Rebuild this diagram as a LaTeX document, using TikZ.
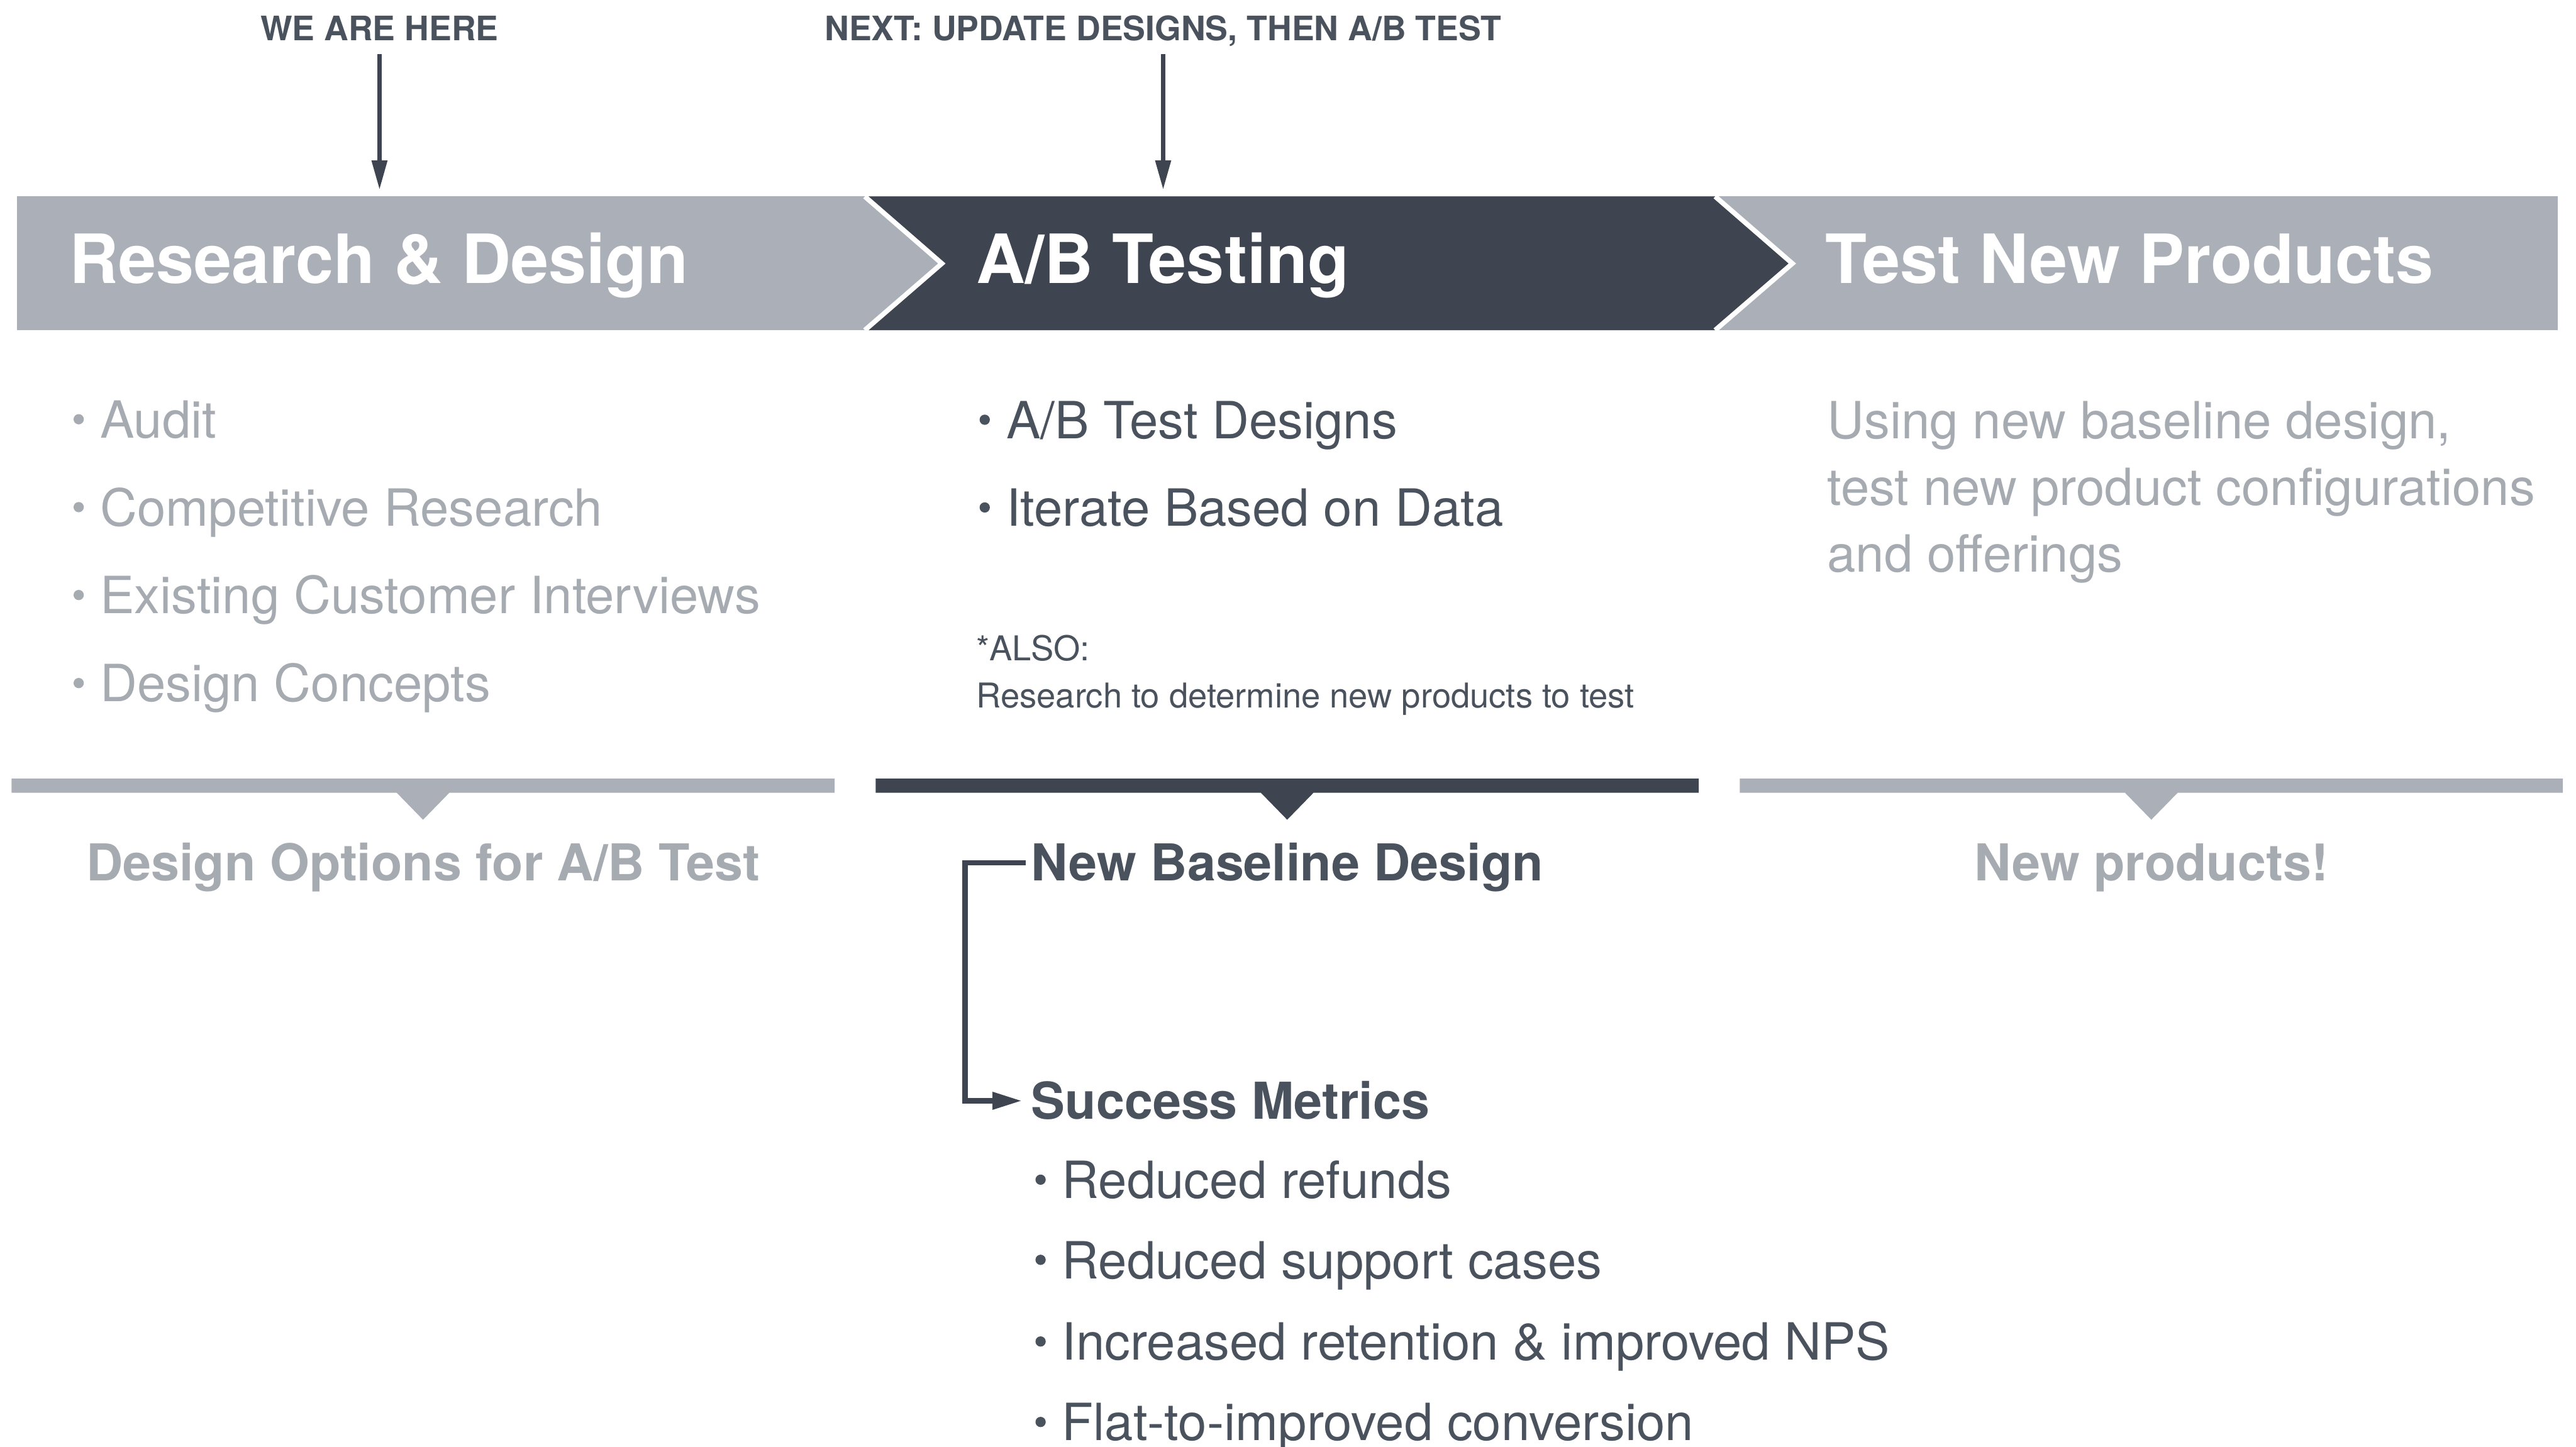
\documentclass[tikz,border=0pt]{standalone}
\usepackage{fontspec}
\setmainfont{TeX Gyre Heros}
\usetikzlibrary{arrows.meta}

\definecolor{slate}{HTML}{3E4550}
\definecolor{slatetext}{HTML}{4A525D}
\definecolor{mist}{HTML}{ABAFB7}
\definecolor{misttext}{HTML}{A6AAB1}

% small round bullet in front of list entries
\newcommand{\blob}{\makebox[0.52em][l]{\raisebox{0.265em}{\tikz\fill (0,0) circle (0.1em);}}}

\begin{document}
\begin{tikzpicture}[
    x=0.025cm, y=-0.025cm,
    stage/.style={anchor=base west, inner sep=0pt, text=white, font=\fontsize{29.4}{34}\selectfont\bfseries},
    tag/.style={anchor=base, inner xsep=0pt, inner ysep=5.8pt, text depth=0pt, text=slatetext, font=\fontsize{14.6}{17}\selectfont\bfseries},
    item/.style={anchor=base west, inner sep=0pt, font=\fontsize{22.2}{26}\selectfont},
    note/.style={anchor=base west, inner sep=0pt, text=slatetext, font=\fontsize{14.8}{17}\selectfont},
    outcome/.style={anchor=base, inner sep=0pt, text height=15.8pt, text depth=0pt, font=\fontsize{22}{26}\selectfont\bfseries},
    pointer/.style={-{Triangle[length=12.8pt, width=6.4pt]}, line width=2pt, draw=slate, shorten >=2.8pt},
    flow/.style={-{Triangle[length=12.8pt, width=7.1pt]}, line width=2.35pt, draw=slate},
    cut/.style={draw=white, line width=2.1pt, miter limit=10}
]
\useasboundingbox (0,0) rectangle (1568,880.6);

% markers above the band
\node[tag] (here) at (231,24.5) {WE ARE HERE};
\node[tag] (next) at (708,24.5) {NEXT: UPDATE DESIGNS, THEN A/B TEST};

% stage band with the active chevron
\fill[mist] (10.5,119.6) rectangle (1557,201);
\fill[slate] (526.4,119.6) -- (1044,119.6) -- (1091,160.4) -- (1044,201) -- (526.4,201) -- (573.3,160.4) -- cycle;
\draw[cut] (526.4,119.6) -- (573.3,160.4) -- (526.4,201);
\draw[cut] (1044,119.6) -- (1091,160.4) -- (1044,201);
\coordinate (bandtop) at (0,119.6);

\node[stage] (research) at (42,172.5) {Research \& Design};
\node[stage] (abtest) at (594,172.5) {A/B Testing};
\node[stage] (products) at (1111,172.5) {Test New Products};

\draw[pointer] (here) -- (here |- bandtop);
\draw[pointer] (next) -- (next |- bandtop);

% research column
\node[item, text=misttext] (audit) at (44.5,266.6) {\blob Audit};
\node[item, text=misttext] (compet) at (44.5,320.1) {\blob Competitive Research};
\node[item, text=misttext] (interv) at (44.5,373.6) {\blob Existing Customer Interviews};
\node[item, text=misttext] (concepts) at (44.5,427.2) {\blob Design Concepts};

% testing column
\node[item, text=slatetext] (designs) at (596,266.9) {\blob A/B Test Designs};
\node[item, text=slatetext] (iterate) at (596,320.3) {\blob Iterate Based on Data};
\node[note] (also) at (594,402.2) {*ALSO:};
\node[note] (alsotxt) at (594,430.8) {Research to determine new products to test};

% products column
\node[item, text=misttext] (using1) at (1112,267) {Using new baseline design,};
\node[item, text=misttext] (using2) at (1112,307.4) {test new product configurations};
\node[item, text=misttext] (using3) at (1112,348) {and offerings};

% result bars
\fill[mist] (7,474) -- (508,474) -- (508,482.6) -- (273.5,482.6) -- (257.5,499) -- (241.5,482.6) -- (7,482.6) -- cycle;
\fill[slate] (533,474) -- (1034,474) -- (1034,482.6) -- (799.5,482.6) -- (783.5,499) -- (767.5,482.6) -- (533,482.6) -- cycle;
\fill[mist] (1059,474) -- (1560,474) -- (1560,482.6) -- (1325.5,482.6) -- (1309.5,499) -- (1293.5,482.6) -- (1059,482.6) -- cycle;

\node[outcome, text=misttext] (options) at (257.5,536.3) {Design Options for A/B Test};
\node[outcome, text=slatetext, anchor=base west] (baseline) at (627.5,536.3) {New Baseline Design};
\node[outcome, text=misttext] (newprod) at (1309.5,536.3) {New products!};
\node[outcome, text=slatetext, anchor=base west] (metrics) at (627.5,681.2) {Success Metrics};

\draw[flow, shorten <=2.1pt, shorten >=3.8pt] (baseline.west) -- ++(-40.1,0) |- (metrics.west);

% metrics list
\node[item, text=slatetext] (refunds) at (630,729.5) {\blob Reduced refunds};
\node[item, text=slatetext] (support) at (630,778.3) {\blob Reduced support cases};
\node[item, text=slatetext] (retain) at (630,828) {\blob Increased retention \& improved NPS};
\node[item, text=slatetext] (convert) at (630,877) {\blob Flat-to-improved conversion};
\end{tikzpicture}
\end{document}
